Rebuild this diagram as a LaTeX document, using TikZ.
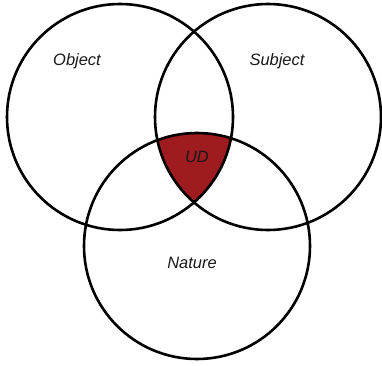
\documentclass[tikz,border=0pt]{standalone}
\usepackage{fontspec}
\setmainfont{Liberation Sans}
\definecolor{udred}{RGB}{158,27,32}
\begin{document}
\begin{tikzpicture}[x=1bp,y=-1bp,
  ring/.style={draw=black,line width=2.6bp},
  lbl/.style={font=\fontsize{16.5}{18}\selectfont\itshape,text=black!90,inner sep=0pt}]
\useasboundingbox (0,0) rectangle (382,366);
\coordinate (cO) at (120,117);
\coordinate (cS) at (268,117);
\coordinate (cN) at (197,246);
\begin{scope}
  \clip (cO) circle[radius=113];
  \clip (cS) circle[radius=113];
  \fill[udred] (cN) circle[radius=113];
\end{scope}
\draw[ring] (cO) circle[radius=113];
\draw[ring] (cS) circle[radius=113];
\draw[ring] (cN) circle[radius=113];
\node[lbl] (tO) at (77,61) {Object};
\node[lbl] (tS) at (277,61) {Subject};
\node[lbl] (tU) at (197,157) {UD};
\node[lbl] (tN) at (192,263) {Nature};
\end{tikzpicture}
\end{document}
